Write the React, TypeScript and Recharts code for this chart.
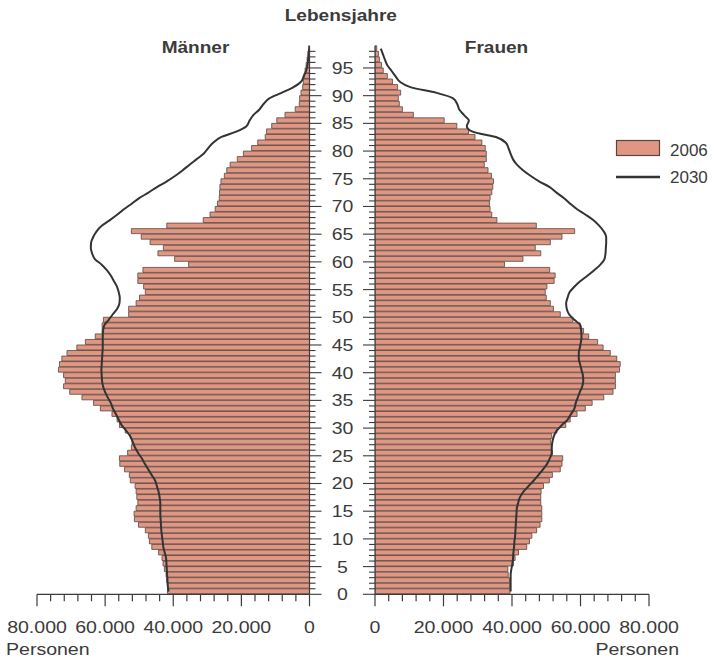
import React from 'react';
import { ComposedChart, Bar, Line, XAxis, YAxis } from 'recharts';

// Age categories (years), 0 .. 98
const ages: number[] = Array.from({ length: 99 }, (_, i) => i);

// Values in thousands of persons
const men2006: number[] = [
  41.7, 41.7, 41.9, 42.1, 42.6, 43.0, 43.3, 44.3, 46.3, 47.0,
  47.3, 48.2, 50.2, 51.4, 51.5, 50.9, 50.4, 50.7, 50.9, 51.2,
  52.6, 52.9, 54.3, 55.7, 55.8, 53.4, 52.3, 52.1, 52.6, 54.1,
  55.8, 56.5, 58.0, 61.4, 63.4, 66.8, 70.4, 72.2, 71.7, 72.2,
  73.7, 73.4, 72.7, 71.2, 68.3, 65.8, 62.9, 60.9, 60.9, 60.5,
  53.1, 53.1, 50.9, 49.9, 48.2, 48.7, 50.4, 50.4, 48.9, 35.5,
  39.6, 44.5, 42.9, 46.8, 49.4, 52.3, 41.9, 31.2, 29.2, 27.7,
  27.0, 26.5, 26.4, 26.3, 26.0, 25.0, 24.3, 23.3, 21.2, 19.4,
  17.0, 15.2, 13.0, 12.6, 11.1, 9.6, 7.2, 4.2, 3.0, 2.9,
  2.5, 2.0, 1.8, 1.6, 1.3, 1.0, 0.7, 0.5, 0.3,
];

const men2030: number[] = [
  41.4, 41.6, 41.7, 41.8, 41.9, 42.0, 42.1, 42.5, 42.9, 43.1,
  43.3, 43.5, 43.6, 43.7, 43.8, 43.8, 43.8, 44.0, 44.3, 44.8,
  45.3, 46.3, 47.3, 48.3, 49.2, 50.3, 51.2, 51.9, 52.6, 53.8,
  55.1, 56.0, 56.8, 57.7, 58.3, 59.2, 60.0, 60.6, 60.9, 61.0,
  61.1, 61.0, 60.9, 60.8, 60.7, 60.7, 60.7, 60.6, 60.3, 59.0,
  57.8, 56.5, 55.8, 55.7, 56.0, 56.5, 57.4, 58.3, 59.5, 61.0,
  63.0, 63.8, 64.2, 64.1, 63.5, 62.5, 61.0, 58.7, 56.5, 54.5,
  52.2, 50.0, 47.3, 44.8, 42.0, 39.5, 37.3, 35.3, 33.2, 31.1,
  29.8, 28.3, 26.0, 21.5, 18.5, 17.6, 16.5, 14.7, 13.5, 11.8,
  8.2, 4.8, 2.5, 1.7, 1.0, 0.6, 0.4, 0.2, 0.1,
];

const women2006: number[] = [
  39.4, 39.4, 39.3, 38.9, 38.8, 40.4, 40.9, 41.9, 44.3, 45.1,
  45.8, 47.2, 48.2, 48.7, 48.7, 48.7, 48.4, 48.4, 48.5, 49.2,
  50.9, 51.8, 54.1, 54.6, 54.8, 51.8, 51.6, 51.3, 51.6, 53.1,
  55.7, 57.0, 59.0, 61.4, 63.4, 66.8, 69.5, 70.2, 70.2, 70.2,
  71.4, 71.6, 70.6, 68.7, 66.6, 65.0, 62.4, 60.9, 59.9, 57.8,
  54.1, 52.1, 51.2, 50.0, 49.7, 50.2, 52.3, 52.6, 51.0, 37.8,
  43.2, 48.4, 46.8, 51.2, 54.6, 58.3, 47.1, 35.6, 34.1, 33.6,
  33.4, 33.6, 34.1, 34.4, 34.6, 34.0, 33.0, 31.9, 32.5, 32.5,
  32.2, 31.2, 29.2, 27.3, 23.9, 20.2, 11.2, 8.0, 7.1, 6.8,
  7.5, 6.6, 5.1, 3.6, 2.4, 1.9, 1.3, 1.0, 0.5,
];

const women2030: number[] = [
  39.6, 39.6, 39.6, 39.6, 39.8, 40.1, 40.3, 40.4, 40.6, 40.7,
  40.9, 41.0, 41.1, 41.2, 41.3, 41.4, 41.8, 42.3, 43.3, 44.8,
  46.3, 47.7, 49.0, 50.2, 51.0, 51.6, 51.6, 51.8, 52.2, 53.0,
  54.5, 56.2, 57.2, 58.2, 58.6, 59.2, 59.8, 60.5, 60.8, 60.7,
  60.3, 59.9, 59.5, 59.5, 59.8, 60.1, 60.3, 60.2, 60.0, 58.3,
  56.7, 56.0, 55.8, 56.2, 56.8, 58.2, 59.9, 62.0, 64.0, 65.8,
  67.0, 67.3, 67.4, 67.5, 67.5, 66.8, 65.5, 63.8, 61.5, 59.0,
  57.0, 55.2, 53.0, 51.0, 48.0, 45.5, 43.3, 41.5, 40.3, 39.6,
  39.0, 38.2, 35.5, 28.5, 26.8, 27.4, 26.0, 24.6, 24.0, 22.8,
  18.0, 10.5, 7.3, 6.0, 4.8, 3.6, 2.9, 2.3, 1.7,
];

const xTicks: number[] = [0, 4, 8, 12, 16, 20, 24, 28, 32, 36, 40, 44, 48, 52, 56, 60, 64, 68, 72, 76, 80];
const xMajorStep = 20;
const ageLabelStep = 5;

const seriesNames = { bars: '2006', line: '2030' };

const rows = ages.map((a, i) => ({
  age: a,
  m06: men2006[i],
  m30: men2030[i],
  w06: women2006[i],
  w30: women2030[i],
}));

// Layout constants
const W = 716;
const H = 663;
const AXIS_Y = 594.3;
const TOP_Y = 45.8;
const X_AXIS_H = 40;
const LEFT_X0 = 37;
const LEFT_X1 = 309.5;
const RIGHT_X0 = 375;
const RIGHT_X1 = 649;
const Y_AXIS_W_L = 20;
const Y_AXIS_W_R = 10;
const BAND = (AXIS_Y - TOP_Y) / ages.length;
const AGE_LABEL_X = 342.5;

const FILL = '#df9682';
const EDGE = '#5a4540';
const INK = '#3b3b3b';
const LINE = '#333333';
const FONT = '"Liberation Sans", Arial, Helvetica, sans-serif';

const fmt = (v: number) => (v === 0 ? '0' : `${v}.000`);

function XTick(props: any) {
  const { x, y, payload } = props;
  const v = payload.value;
  const major = v % xMajorStep === 0;
  return (
    <g>
      <line x1={x} x2={x} y1={y} y2={y + (major ? 12 : 7)} stroke={INK} strokeWidth={1.2} />
      {major && (
        <text
          transform={`translate(${x},${y + 39}) scale(1.15,1)`}
          textAnchor="middle"
          fontSize={17}
          fill={INK}
          fontFamily={FONT}
        >
          {fmt(v)}
        </text>
      )}
    </g>
  );
}

function LeftYTick(props: any) {
  const { x, y, payload } = props;
  const off = payload && typeof payload.offset === 'number' ? payload.offset : BAND / 2;
  const yb = y + off;
  const v = payload.value;
  const major = v % ageLabelStep === 0;
  return (
    <g>
      <line x1={x} x2={x + (major ? 12 : 6)} y1={yb} y2={yb} stroke={INK} strokeWidth={1.1} />
      {major && (
        <text
          transform={`translate(${AGE_LABEL_X},${yb}) scale(1.18,1)`}
          textAnchor="middle"
          dy="0.36em"
          fontSize={16.5}
          fill={INK}
          fontFamily={FONT}
        >
          {v}
        </text>
      )}
    </g>
  );
}

function RightYTick(props: any) {
  const { x, y, payload } = props;
  const off = payload && typeof payload.offset === 'number' ? payload.offset : BAND / 2;
  const yb = y + off;
  const major = payload.value % ageLabelStep === 0;
  return <line x1={x} x2={x - (major ? 12 : 6)} y1={yb} y2={yb} stroke={INK} strokeWidth={1.1} />;
}

const margin = {
  top: TOP_Y,
  bottom: H - AXIS_Y - X_AXIS_H,
};

export default function App() {
  return (
    <div style={{ position: 'absolute', left: 0, top: 0, width: W, height: H, background: '#fff', fontFamily: FONT }}>
      <div style={{ position: 'absolute', left: 0, top: 0 }}>
        <ComposedChart
          width={W}
          height={H}
          data={rows}
          layout="vertical"
          barCategoryGap={0}
          margin={{ ...margin, left: LEFT_X0, right: W - LEFT_X1 - Y_AXIS_W_L }}
        >
          <XAxis
            type="number"
            domain={[0, 80]}
            reversed
            ticks={xTicks}
            interval={0}
            tickSize={0}
            tickMargin={0}
            tickLine={false}
            axisLine={{ stroke: INK, strokeWidth: 1.2 }}
            height={X_AXIS_H}
            tick={<XTick />}
            allowDataOverflow
          />
          <YAxis
            type="category"
            dataKey="age"
            reversed
            orientation="right"
            width={Y_AXIS_W_L}
            interval={0}
            tickSize={0}
            tickMargin={0}
            tickLine={false}
            axisLine={{ stroke: INK, strokeWidth: 1.2 }}
            tick={<LeftYTick />}
          />
          <Bar dataKey="m06" name={seriesNames.bars} fill={FILL} stroke={EDGE} strokeWidth={0.8} barSize={BAND} isAnimationActive={false} />
          <Line dataKey="m30" name={seriesNames.line} type="monotone" stroke={LINE} strokeWidth={2} dot={false} isAnimationActive={false} />
        </ComposedChart>
      </div>
      <div style={{ position: 'absolute', left: 0, top: 0 }}>
        <ComposedChart
          width={W}
          height={H}
          data={rows}
          layout="vertical"
          barCategoryGap={0}
          margin={{ ...margin, left: RIGHT_X0 - Y_AXIS_W_R, right: W - RIGHT_X1 }}
        >
          <XAxis
            type="number"
            domain={[0, 80]}
            ticks={xTicks}
            interval={0}
            tickSize={0}
            tickMargin={0}
            tickLine={false}
            axisLine={{ stroke: INK, strokeWidth: 1.2 }}
            height={X_AXIS_H}
            tick={<XTick />}
            allowDataOverflow
          />
          <YAxis
            type="category"
            dataKey="age"
            reversed
            orientation="left"
            width={Y_AXIS_W_R}
            interval={0}
            tickSize={0}
            tickMargin={0}
            tickLine={false}
            axisLine={{ stroke: INK, strokeWidth: 1.2 }}
            tick={<RightYTick />}
          />
          <Bar dataKey="w06" name={seriesNames.bars} fill={FILL} stroke={EDGE} strokeWidth={0.8} barSize={BAND} isAnimationActive={false} />
          <Line dataKey="w30" name={seriesNames.line} type="monotone" stroke={LINE} strokeWidth={2} dot={false} isAnimationActive={false} />
        </ComposedChart>
      </div>
      <svg width={W} height={H} style={{ position: 'absolute', left: 0, top: 0, pointerEvents: 'none' }}>
        <g fontFamily={FONT} fill={INK}>
          <text transform="translate(340.8,21) scale(1.17,1)" textAnchor="middle" fontSize={16.3} fontWeight="bold">Lebensjahre</text>
          <text transform="translate(195.5,53.3) scale(1.17,1)" textAnchor="middle" fontSize={16.3} fontWeight="bold">Männer</text>
          <text transform="translate(496.5,53.3) scale(1.17,1)" textAnchor="middle" fontSize={16.3} fontWeight="bold">Frauen</text>
          <text transform="translate(6,655) scale(1.15,1)" textAnchor="start" fontSize={17}>Personen</text>
          <text transform="translate(679,655) scale(1.15,1)" textAnchor="end" fontSize={17}>Personen</text>
          <rect x={616.5} y={140.5} width={43} height={15} fill={FILL} stroke={EDGE} strokeWidth={1.2} />
          <text x={670} y={156} fontSize={17}>{seriesNames.bars}</text>
          <line x1={616} x2={660} y1={177} y2={177} stroke={LINE} strokeWidth={2.5} />
          <text x={670} y={183} fontSize={17}>{seriesNames.line}</text>
        </g>
      </svg>
    </div>
  );
}
